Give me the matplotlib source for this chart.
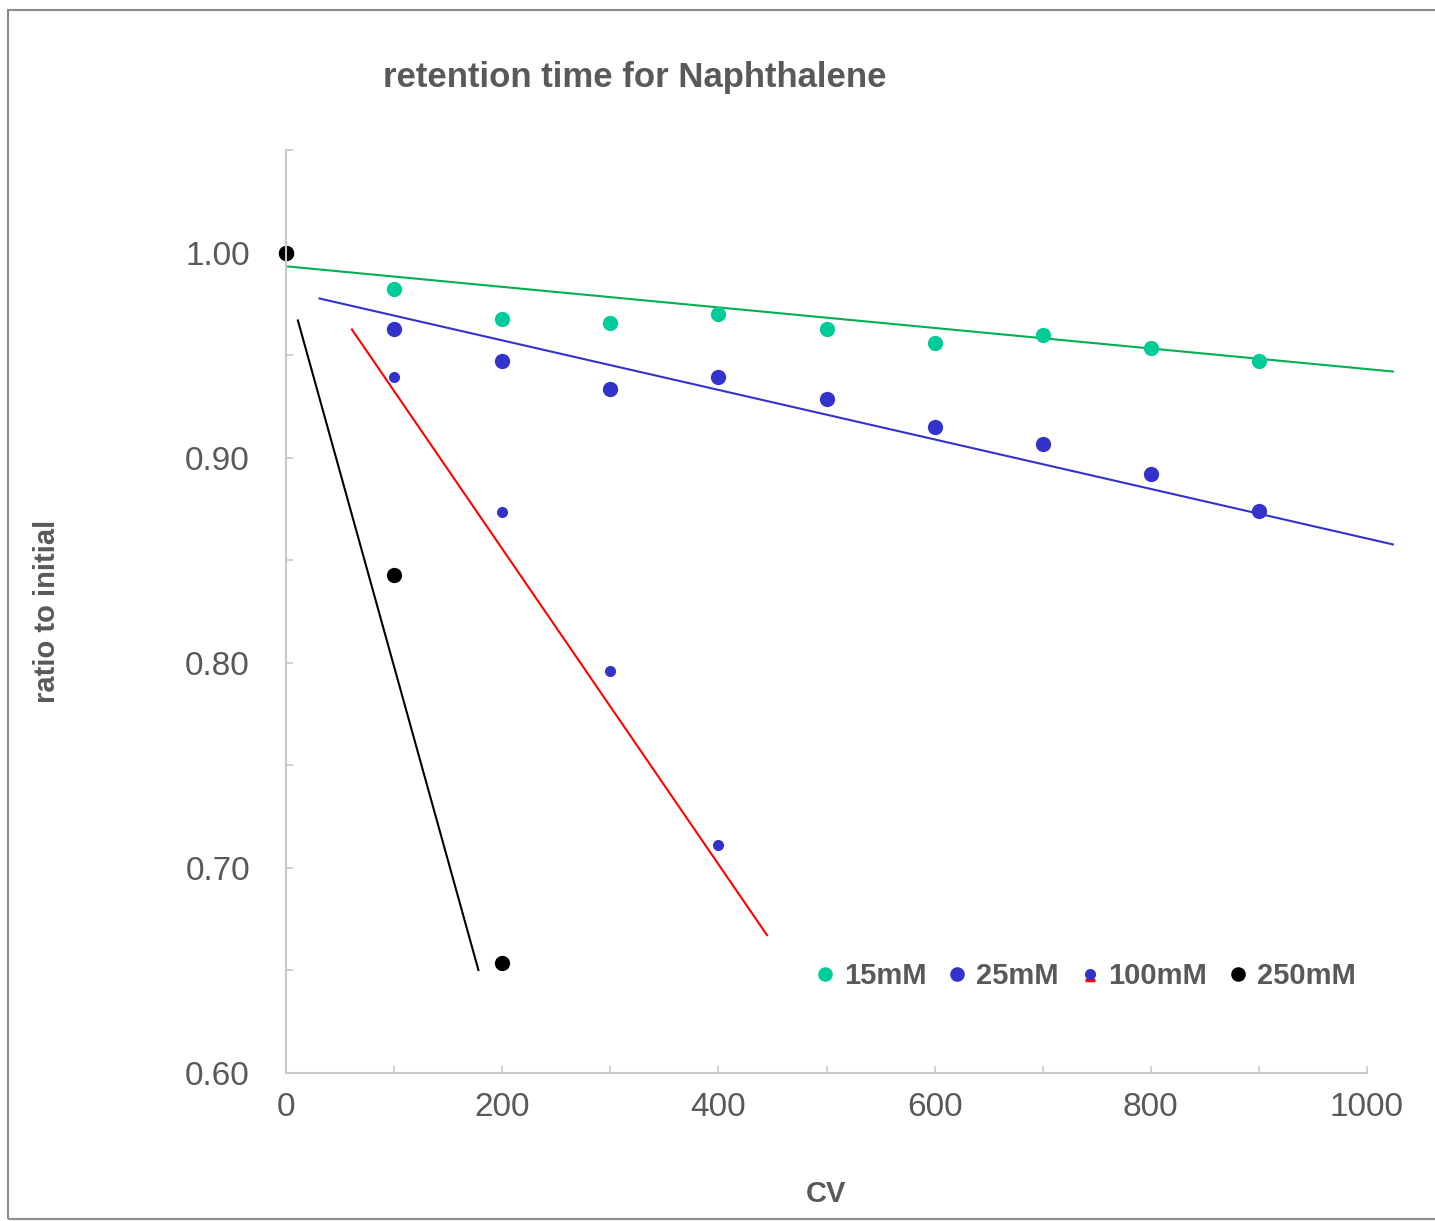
import matplotlib
matplotlib.use("Agg")
from matplotlib import pyplot as plt
from matplotlib import font_manager
from matplotlib.lines import Line2D
from matplotlib.path import Path
from matplotlib.patches import Rectangle
from matplotlib.legend_handler import HandlerTuple
from matplotlib.ticker import MultipleLocator, FormatStrFormatter

# measured points (ratio to initial retention time)
cv = [0, 100, 200, 300, 400, 500, 600, 700, 800, 900]
ratio_15mm = [1.000, 0.9823, 0.9674, 0.9657, 0.9701, 0.9628, 0.9560, 0.9596, 0.9536, 0.9472]
ratio_25mm = [1.000, 0.9625, 0.9469, 0.9333, 0.9391, 0.9287, 0.9149, 0.9069, 0.8922, 0.8740]
cv_100mm = [0, 100, 200, 300, 400]
ratio_100mm = [1.000, 0.9393, 0.8733, 0.7959, 0.7111]
cv_250mm = [0, 100, 200]
ratio_250mm = [1.000, 0.8426, 0.6536]

# trendlines, end points as drawn in the original
trend_15mm_x = [2, 1024]
trend_15mm_y = [0.9932, 0.9420]
trend_25mm_x = [31, 1024]
trend_25mm_y = [0.9776, 0.8577]
trend_100mm_x = [61, 445]
trend_100mm_y = [0.9625, 0.6672]
trend_250mm_x = [11, 178]
trend_250mm_y = [0.9669, 0.6502]

series_labels = ["15mM", "25mM", "100mM", "250mM"]

TEXT = "#595959"
TEAL = "#00CC99"
BLUE = "#3333CC"

installed = {f.name for f in font_manager.fontManager.ttflist}
narrow = "Liberation Sans Narrow" if "Liberation Sans Narrow" in installed else "Liberation Sans"
plt.rcParams["font.family"] = ["Liberation Sans", "DejaVu Sans"]

fig = plt.figure(figsize=(14.35, 12.21), dpi=100)
ax = fig.add_axes([286 / 1435, 1 - 1073 / 1221, (1367 - 286) / 1435, (1073 - 150) / 1221])

# chart area border
fig.patches.append(Rectangle((8 / 1435, 2 / 1221), 1.0, 1 - 12 / 1221,
                             transform=fig.transFigure, fill=False,
                             edgecolor="#8C8C8C", linewidth=1.5))

ax.plot(trend_15mm_x, trend_15mm_y, color="#00B050", lw=1.5, clip_on=False)
ax.plot(trend_25mm_x, trend_25mm_y, color=BLUE, lw=1.5, clip_on=False)
ax.plot(trend_100mm_x, trend_100mm_y, color="#FF0000", lw=1.5, clip_on=False)
ax.plot(trend_250mm_x, trend_250mm_y, color="black", lw=1.5, clip_on=False)

ax.plot(cv, ratio_15mm, "o", color=TEAL, ms=11, mec="none", clip_on=False)
ax.plot(cv, ratio_25mm, "o", color=BLUE, ms=11, mec="none", clip_on=False)
ax.plot(cv_100mm, ratio_100mm, "o", color=BLUE, ms=8, mec="none", clip_on=False)
ax.plot(cv_250mm, ratio_250mm, "o", color="black", ms=11, mec="none", clip_on=False)

ax.set_xlim(0, 1000)
ax.set_ylim(0.60, 1.05)
ax.xaxis.set_major_locator(MultipleLocator(200))
ax.xaxis.set_minor_locator(MultipleLocator(100))
ax.set_yticks([0.6, 0.7, 0.8, 0.9, 1.0])
ax.set_yticks([0.65, 0.75, 0.85, 0.95, 1.05], minor=True)
ax.yaxis.set_major_formatter(FormatStrFormatter("%.2f"))

for side in ["top", "right"]:
    ax.spines[side].set_visible(False)
for side in ["left", "bottom"]:
    ax.spines[side].set_color("#C8C8C8")
    ax.spines[side].set_linewidth(1.5)

ax.tick_params(which="both", direction="in", length=5, width=1.2, color="#C8C8C8",
               labelcolor=TEXT, labelsize=24)
ax.tick_params(axis="y", which="major", pad=26)
ax.tick_params(axis="x", which="major", pad=14)

label_font = [narrow, "DejaVu Sans"]
fig.text(635 / 1435, 1 - 78 / 1221, "retention time for Naphthalene", ha="center", va="center",
         fontsize=25, fontweight="bold", color=TEXT, family=label_font)
fig.text(47 / 1435, 1 - 611 / 1221, "ratio to initial", ha="center", va="center", rotation=90,
         fontsize=21, fontweight="bold", color=TEXT, family=label_font)
fig.text(826 / 1435, 1 - 1194 / 1221, "CV", ha="center", va="center",
         fontsize=21, fontweight="bold", color=TEXT, family=label_font)

# legend: the 100mM entry shows its trendline as a short red dash under the dot
dash = Path([(-0.5, -0.6), (0.5, -0.6)], [Path.MOVETO, Path.LINETO])
h15 = Line2D([], [], ls="none", marker="o", color=TEAL, ms=10.5, mec="none")
h25 = Line2D([], [], ls="none", marker="o", color=BLUE, ms=10.5, mec="none")
h100_dot = Line2D([], [], ls="none", marker="o", color=BLUE, ms=8, mec="none")
h100_dash = Line2D([], [], ls="none", marker=dash, ms=9, mec="#FF0000", mfc="none", mew=2.5)
h250 = Line2D([], [], ls="none", marker="o", color="black", ms=10.5, mec="none")

leg = ax.legend([h15, h25, (h100_dash, h100_dot), h250], series_labels,
                handler_map={tuple: HandlerTuple(ndivide=1)},
                ncol=4, frameon=False, loc="center",
                bbox_to_anchor=(1084 / 1435, 1 - 976 / 1221), bbox_transform=fig.transFigure,
                handlelength=0.9, handletextpad=0.2, columnspacing=0.6, borderpad=0,
                prop={"family": label_font, "weight": "bold", "size": 21})
for t in leg.get_texts():
    t.set_color(TEXT)

fig.savefig("out.png", dpi=100)
